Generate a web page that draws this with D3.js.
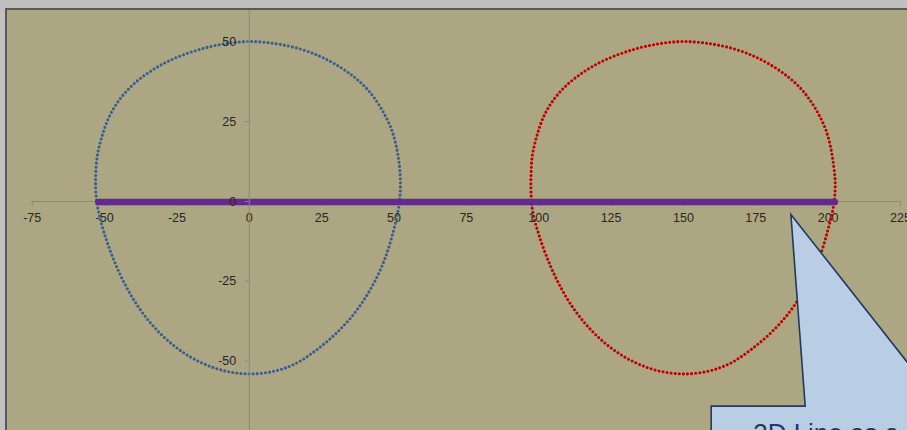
<!DOCTYPE html>
<html>
<head>
<meta charset="utf-8">
<script src="https://cdn.jsdelivr.net/npm/d3@7"></script>
<style>
  body { margin: 0; background: #c0c0c0; overflow: hidden; }
  svg { display: block; }
</style>
</head>
<body>
<svg id="chart" width="907" height="430"></svg>
<script>
// axis ticks
const xTicks = [-75, -50, -25, 0, 25, 50, 75, 100, 125, 150, 175, 200, 225];
const yTicks = [-50, -25, 0, 25, 50];

// egg shaped series (x, y)
const blueEgg = [
  [0, 50], [9.5, 49.3], [18, 47.6], [25, 45.2], [31.5, 42], [36.5, 38.8], [40.5, 35.5], [44, 31.5],
  [47, 27], [49.3, 22.5], [51, 17], [52, 11.5], [52.4, 6], [52.2, 1], [51.4, -4], [50.1, -9],
  [48.2, -15], [45.5, -21.5], [41.5, -28.5], [36.4, -35.3], [30.4, -41.3], [23.5, -46.6], [16.5, -50.8],
  [9, -53.3], [0.3, -54.2], [-8.6, -53.2], [-17.5, -50.2], [-25.5, -45.6], [-32.6, -39.6], [-38.6, -32.6],
  [-43.4, -25], [-47.1, -17.4], [-49.9, -10.2], [-51.8, -3.8], [-52.7, 1], [-52.9, 7.5], [-52.3, 14.4],
  [-50.6, 20.6], [-48.3, 26.3], [-44.8, 31.6], [-40.2, 36.3], [-34.4, 40.4], [-27.4, 44], [-18.2, 47.2],
  [-8.9, 49.2]
];
const redEgg = [
  [150, 50], [159.5, 49.3], [168, 47.6], [175, 45.2], [181.5, 42], [186.5, 38.8], [190.5, 35.5], [194, 31.5],
  [197, 27], [199.3, 22.5], [201, 17], [202, 11.5], [202.6, 6], [202.4, 1], [201.5, -4], [200.1, -9],
  [198.2, -15], [195.5, -21.5], [191.5, -28.5], [186.4, -35.3], [180.4, -41.3], [173.5, -46.6], [166.5, -50.8],
  [159, -53.3], [150.3, -54.2], [141.4, -53.2], [132.5, -50.2], [124.5, -45.6], [117.4, -39.6], [111.4, -32.6],
  [106.6, -25], [102.9, -17.4], [100.1, -10.2], [98.2, -3.8], [97.6, 1], [97.5, 7.5], [98, 14.4],
  [99.6, 20.6], [101.8, 26.3], [105.2, 31.6], [109.8, 36.3], [115.6, 40.4], [122.6, 44], [131.8, 47.2],
  [141.1, 49.2]
];

// the "3D line" lying on the x axis
const flatLine = [[-52, 0], [202.5, 0]];

// callout annotation
const calloutAnchor = [187.3, -4.2];
const calloutText = "3D Line as a series";

const svg = d3.select("#chart");

// chart area
svg.append("rect")
  .attr("x", 6).attr("y", 9)
  .attr("width", 920).attr("height", 440)
  .attr("fill", "#ada682")
  .attr("stroke", "#595959")
  .attr("stroke-width", 2);

const x = d3.scaleLinear().domain([-75, 225]).range([31.7, 900]);
const y = d3.scaleLinear().domain([-75, 60]).range([440.25, 9.6]);

const font = "'Liberation Sans', Arial, sans-serif";
const fmt = d => String(d);

// x axis
const gx = svg.append("g")
  .attr("transform", `translate(0,${y(0)})`)
  .call(d3.axisBottom(x).tickValues(xTicks).tickFormat(fmt).tickSize(5).tickSizeOuter(0).tickPadding(7.5));

// y axis
const gy = svg.append("g")
  .attr("transform", `translate(${x(0)},0)`)
  .call(d3.axisLeft(y).tickValues(yTicks).tickFormat(fmt).tickSize(4).tickSizeOuter(0).tickPadding(8.5));

[gx, gy].forEach(g => {
  g.select(".domain").attr("stroke", "#868686");
  g.selectAll(".tick line").attr("stroke", "#868686");
  g.selectAll(".tick text")
    .attr("fill", "#262626")
    .attr("font-family", font)
    .attr("font-size", 12.5);
});

// dotted series: drawn as round dots along the curve
const eggLine = d3.line()
  .x(d => x(d[0]))
  .y(d => y(d[1]))
  .curve(d3.curveCatmullRomClosed.alpha(0.5));

svg.append("path")
  .attr("d", eggLine(blueEgg))
  .attr("fill", "none")
  .attr("stroke", "#3a5d90")
  .attr("stroke-width", 3.1)
  .attr("stroke-linecap", "round")
  .attr("stroke-dasharray", "0 4.1");

svg.append("path")
  .attr("d", eggLine(redEgg))
  .attr("fill", "none")
  .attr("stroke", "#c00000")
  .attr("stroke-width", 3.1)
  .attr("stroke-linecap", "round")
  .attr("stroke-dasharray", "0 4.1");

// thick purple line
svg.append("path")
  .attr("d", d3.line().x(d => x(d[0])).y(d => y(d[1]) + 1)(flatLine))
  .attr("fill", "none")
  .attr("stroke", "#622a8c")
  .attr("stroke-width", 6.5)
  .attr("stroke-linecap", "round");

// y axis labels sit above the series
gy.raise();

// callout
const tx = x(calloutAnchor[0]), ty = y(calloutAnchor[1]);
const boxTop = ty + 191.7;
const callout = [
  [tx, ty],
  [tx + 150.9, boxTop],
  [tx + 300, boxTop],
  [tx + 300, boxTop + 120],
  [tx - 79.7, boxTop + 120],
  [tx - 79.7, boxTop],
  [tx + 14.3, boxTop]
];
svg.append("path")
  .attr("d", d3.line()(callout) + "Z")
  .attr("fill", "#b9cde5")
  .attr("stroke", "#1f3b5e")
  .attr("stroke-width", 1.6)
  .attr("stroke-linejoin", "miter");

svg.append("text")
  .attr("x", tx - 37.7)
  .attr("y", boxTop + 35.6)
  .attr("font-family", font)
  .attr("font-size", 26)
  .attr("fill", "#1f3b5e")
  .text(calloutText);
</script>
</body>
</html>
